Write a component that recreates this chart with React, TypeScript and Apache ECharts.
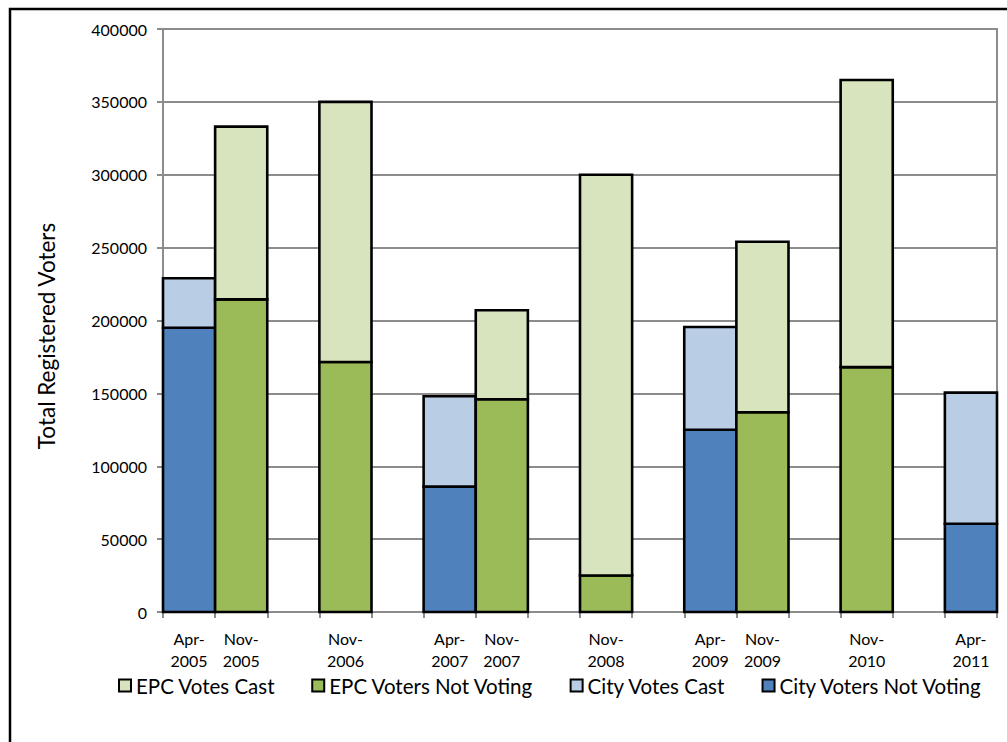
import React, { useEffect, useRef } from "react";
import * as echarts from "echarts";

// Election slots along the x axis; blank entries are years without a vote.
const categories = [
  "Apr-\n2005", "Nov-\n2005", "", "Nov-\n2006", "", "Apr-\n2007", "Nov-\n2007", "",
  "Nov-\n2008", "", "Apr-\n2009", "Nov-\n2009", "", "Nov-\n2010", "", "Apr-\n2011",
];

const cityNotVoting = [195000, null, null, null, null, 86000, null, null, null, null, 125000, null, null, null, null, 60500];
const cityVotesCast = [34000, null, null, null, null, 62000, null, null, null, null, 70500, null, null, null, null, 90000];
const epcNotVoting = [null, 214500, null, 171500, null, null, 146000, null, 25000, null, null, 137000, null, 168000, null, null];
const epcVotesCast = [null, 118500, null, 178500, null, null, 61000, null, 275000, null, null, 117000, null, 197000, null, null];

const legendOrder = ["EPC Votes Cast", "EPC Voters Not Voting", "City Votes Cast", "City Voters Not Voting"];

const FONT = "Lato";
const GRID_GRAY = "#8c8c8c";

type Cell = number | null;

// Stacked segment rows: [category index, segment bottom, segment top].
function segments(values: Cell[], below: Cell[] | null) {
  const rows: number[][] = [];
  values.forEach((v, i) => {
    if (v == null) return;
    const base = below && below[i] != null ? (below[i] as number) : 0;
    rows.push([i, base, base + v]);
  });
  return rows;
}

export default function App() {
  const ref = useRef<HTMLDivElement>(null);

  useEffect(() => {
    if (!ref.current) return;
    const chart = echarts.init(ref.current, undefined, { renderer: "svg" });

    // Bars are drawn as full-width rectangles whose black outlines sit on the
    // segment edges, so touching segments share one outline.
    const stackedBar = (name: string, rows: number[][], color: string) => ({
      name,
      type: "custom",
      itemStyle: { color },
      encode: { x: 0, y: [1, 2] },
      data: rows,
      renderItem: (_params: any, api: any) => {
        const idx = api.value(0);
        const bottom = api.coord([idx, api.value(1)]);
        const top = api.coord([idx, api.value(2)]);
        const w = api.size([1, 0])[0];
        return {
          type: "rect",
          shape: { x: bottom[0] - w / 2, y: top[1], width: w, height: bottom[1] - top[1] },
          style: { fill: color, stroke: "#000", lineWidth: 2.6 },
        };
      },
    });

    chart.setOption({
      animation: false,
      backgroundColor: "#fff",
      grid: {
        left: 163,
        right: 10,
        top: 29,
        bottom: 130,
        show: true,
        borderColor: GRID_GRAY,
        borderWidth: 2,
        backgroundColor: "transparent",
      },
      legend: {
        data: legendOrder,
        left: 113,
        top: 670,
        itemWidth: 12,
        itemHeight: 12,
        itemGap: 36,
        icon: "rect",
        itemStyle: { borderColor: "#000", borderWidth: 2 },
        textStyle: { fontFamily: FONT, fontSize: 20.5, color: "#000" },
      },
      xAxis: {
        type: "category",
        data: categories,
        axisLine: { show: true, lineStyle: { color: GRID_GRAY, width: 2 } },
        axisTick: { show: true, alignWithLabel: false, interval: 0, length: 6, lineStyle: { color: GRID_GRAY, width: 2 } },
        axisLabel: {
          interval: 0,
          margin: 15,
          fontFamily: FONT,
          fontSize: 16,
          lineHeight: 22,
          color: "#000",
        },
        splitLine: { show: false },
      },
      yAxis: {
        type: "value",
        min: 0,
        max: 400000,
        interval: 50000,
        axisLine: { show: true, lineStyle: { color: GRID_GRAY, width: 2 } },
        axisTick: { show: true, length: 6, lineStyle: { color: GRID_GRAY, width: 2 } },
        axisLabel: {
          margin: 16,
          fontFamily: FONT,
          fontSize: 16,
          color: "#000",
          formatter: (v: number) => String(v),
        },
        splitLine: { show: true, lineStyle: { color: GRID_GRAY, width: 2 } },
      },
      series: [
        stackedBar("City Voters Not Voting", segments(cityNotVoting, null), "#4f81bd"),
        stackedBar("City Votes Cast", segments(cityVotesCast, cityNotVoting), "#b9cde5"),
        stackedBar("EPC Voters Not Voting", segments(epcNotVoting, null), "#9bbb59"),
        stackedBar("EPC Votes Cast", segments(epcVotesCast, epcNotVoting), "#d7e4bd"),
      ],
      graphic: [
        {
          type: "text",
          x: 46,
          y: 336,
          rotation: Math.PI / 2,
          style: {
            text: "Total Registered Voters",
            fontFamily: FONT,
            fontSize: 22.5,
            fill: "#000",
            align: "center",
            verticalAlign: "middle",
          },
        },
        {
          type: "rect",
          shape: { x: 10, y: 9, width: 1030, height: 780 },
          style: { fill: "none", stroke: "#000", lineWidth: 2.5 },
          silent: true,
        },
      ],
    });

    return () => chart.dispose();
  }, []);

  return (
    <div
      ref={ref}
      style={{ position: "fixed", left: 0, top: 0, width: 1007, height: 742, background: "#fff" }}
    />
  );
}
